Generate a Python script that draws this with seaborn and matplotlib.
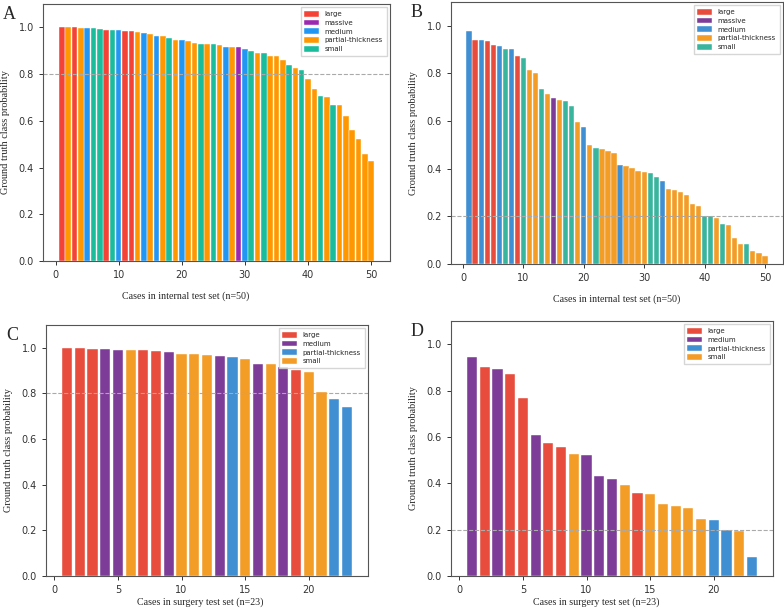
import matplotlib
matplotlib.use("Agg")
import matplotlib.pyplot as plt
import seaborn as sns
import pandas as pd

# Panel A: internal test set, classifier 1 (threshold 0.8)
a_prob = [1.0, 1.0, 1.0, 0.998, 0.997, 0.996, 0.995, 0.989, 0.987, 0.987,
          0.985, 0.983, 0.979, 0.976, 0.971, 0.964, 0.961, 0.953, 0.948, 0.948,
          0.94, 0.931, 0.927, 0.927, 0.927, 0.924, 0.914, 0.914, 0.914, 0.907,
          0.898, 0.891, 0.891, 0.877, 0.877, 0.861, 0.837, 0.827, 0.817, 0.778,
          0.738, 0.708, 0.70, 0.666, 0.666, 0.619, 0.559, 0.521, 0.456, 0.43]
a_cls = ["large", "partial-thickness", "large", "partial-thickness", "medium",
         "small", "small", "large", "small", "medium",
         "large", "large", "partial-thickness", "medium", "partial-thickness",
         "medium", "partial-thickness", "small", "partial-thickness", "medium",
         "partial-thickness", "partial-thickness", "small", "partial-thickness", "small",
         "partial-thickness", "medium", "partial-thickness", "massive", "medium",
         "small", "partial-thickness", "small", "partial-thickness", "partial-thickness",
         "partial-thickness", "small", "partial-thickness", "small", "partial-thickness",
         "partial-thickness", "small", "partial-thickness", "small", "partial-thickness",
         "partial-thickness", "partial-thickness", "partial-thickness", "partial-thickness",
         "partial-thickness"]

# Panel B: internal test set, classifier 2 (threshold 0.2)
b_prob = [0.979, 0.942, 0.942, 0.936, 0.919, 0.915, 0.902, 0.902, 0.872, 0.866,
          0.813, 0.80, 0.735, 0.712, 0.697, 0.69, 0.684, 0.662, 0.598, 0.574,
          0.50, 0.486, 0.482, 0.475, 0.468, 0.414, 0.412, 0.404, 0.39, 0.388,
          0.384, 0.364, 0.35, 0.316, 0.31, 0.303, 0.29, 0.25, 0.242, 0.203,
          0.202, 0.192, 0.166, 0.162, 0.108, 0.084, 0.082, 0.054, 0.047, 0.033]
b_cls = ["medium", "large", "medium", "large", "large",
         "medium", "small", "medium", "large", "small",
         "partial-thickness", "partial-thickness", "small", "partial-thickness", "massive",
         "partial-thickness", "small", "small", "partial-thickness", "medium",
         "partial-thickness", "small", "partial-thickness", "partial-thickness", "partial-thickness",
         "medium", "partial-thickness", "partial-thickness", "partial-thickness", "partial-thickness",
         "small", "small", "medium", "partial-thickness", "partial-thickness",
         "partial-thickness", "partial-thickness", "partial-thickness", "partial-thickness", "small",
         "small", "partial-thickness", "small", "partial-thickness", "partial-thickness",
         "partial-thickness", "small", "partial-thickness", "partial-thickness", "partial-thickness"]

# Panel C: surgery test set, classifier 1
c_prob = [1.0, 0.999, 0.995, 0.995, 0.992, 0.992, 0.991, 0.988, 0.981, 0.975,
          0.973, 0.969, 0.965, 0.96, 0.949, 0.929, 0.928, 0.914, 0.902, 0.894,
          0.806, 0.776, 0.741]
c_cls = ["large", "large", "large", "medium", "medium", "small", "large", "large",
         "medium", "small", "small", "small", "medium", "partial-thickness", "small",
         "medium", "small", "medium", "large", "small", "small",
         "partial-thickness", "partial-thickness"]

# Panel D: surgery test set, classifier 2
d_prob = [0.944, 0.902, 0.892, 0.873, 0.769, 0.61, 0.574, 0.558, 0.526, 0.521,
          0.43, 0.42, 0.392, 0.36, 0.352, 0.312, 0.303, 0.293, 0.244, 0.241,
          0.20, 0.193, 0.083]
d_cls = ["medium", "large", "medium", "large", "large", "medium", "large", "large",
         "small", "medium", "medium", "medium", "small", "large", "small", "small",
         "small", "small", "small", "partial-thickness", "partial-thickness",
         "small", "partial-thickness"]

pal_a = {"large": "#f44336", "massive": "#9c27b0", "medium": "#2196f3",
         "partial-thickness": "#ff9800", "small": "#1abc9c"}
pal_b = {"large": "#e74c3c", "massive": "#7d3c98", "medium": "#3f8fd2",
         "partial-thickness": "#f39c26", "small": "#3ab59d"}
pal_cd = {"large": "#e74c3c", "medium": "#7d3c98",
          "partial-thickness": "#3f8fd2", "small": "#f39c26"}

sns.set_style("ticks")
plt.rcParams["font.family"] = ["DejaVu Sans"]

fig = plt.figure(figsize=(7.84, 6.08), dpi=100)
W, H = 784, 608


def px_axes(l, t, r, b):
    return fig.add_axes([l / W, 1 - b / H, (r - l) / W, (b - t) / H])


# letter, values, classes, palette, threshold, xlabel, axes box (px), bar width, xlabel centre (px)
panels = [
    ("A", a_prob, a_cls, pal_a, 0.8, "Cases in internal test set (n=50)", (43, 4, 390, 261), 0.88, (186, 296)),
    ("B", b_prob, b_cls, pal_b, 0.2, "Cases in internal test set (n=50)", (451, 2, 783, 264), 0.88, (617, 299)),
    ("C", c_prob, c_cls, pal_cd, 0.8, "Cases in surgery test set (n=23)", (46, 325, 368, 576), 0.8, (200, 602)),
    ("D", d_prob, d_cls, pal_cd, 0.2, "Cases in surgery test set (n=23)", (451, 321, 773, 576), 0.8, (596, 602)),
]

for letter, prob, cls, pal, thr, xlab, box, bw, lab_xy in panels:
    ax = px_axes(*box)
    df = pd.DataFrame({"case": range(1, len(prob) + 1), "prob": prob, "cls": cls})
    sns.barplot(data=df, x="case", y="prob", hue="cls", hue_order=list(pal.keys()),
                palette=pal, native_scale=True, dodge=False, width=bw,
                edgecolor="white", linewidth=0.3, saturation=1, ax=ax)
    ax.axhline(thr, color="#aaaaaa", linestyle="--", linewidth=0.8)
    n = len(prob)
    ax.set_xlim(0.5 - n * 0.05, n + 0.5 + n * 0.05)
    ax.set_ylim(0, 1.1)
    ax.set_yticks([0.0, 0.2, 0.4, 0.6, 0.8, 1.0])
    ax.tick_params(labelsize=7, length=3, width=0.7, colors="#333333")
    for s in ax.spines.values():
        s.set_color("#555555")
        s.set_linewidth(0.8)
    ax.set_xlabel(xlab, family="Liberation Serif", fontsize=7.2)
    ax.xaxis.set_label_coords((lab_xy[0] - box[0]) / (box[2] - box[0]),
                              -(lab_xy[1] - box[3]) / (box[3] - box[1]))
    ax.xaxis.label.set_va("center")
    ax.set_ylabel("Ground truth class probability", family="Liberation Serif",
                  fontsize=7.4, labelpad=6)
    ax.legend(loc="upper right", fontsize=5, title=None, frameon=True,
              handlelength=2.2, handleheight=0.9, borderpad=0.5, labelspacing=0.35,
              edgecolor="#cccccc", fancybox=False)
    fig.text((box[0] - 40) / W, 1 - (box[1] + 2) / H, letter,
             family="Liberation Serif", fontsize=13, va="top", ha="left")

fig.savefig("out.png", dpi=100)
